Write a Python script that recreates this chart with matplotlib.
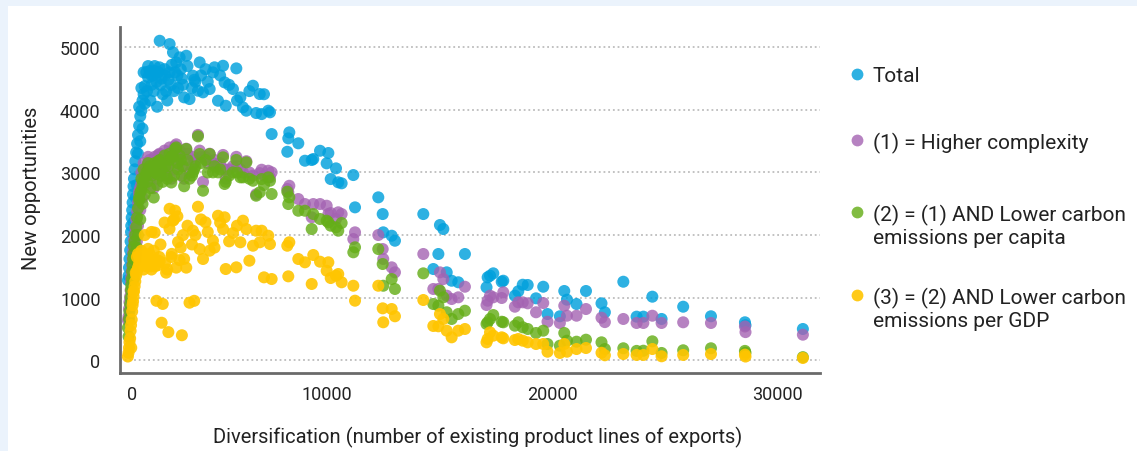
import matplotlib
matplotlib.use("Agg")
import matplotlib.pyplot as plt
from matplotlib.lines import Line2D
from matplotlib.patches import Rectangle

# one entry per country: diversification and number of new opportunities
diversification = [
    1150, 1180, 1200, 1220, 1250, 1270, 1290, 1300, 1320, 1340,
    1360, 1380, 1400, 1420, 1450, 1480, 1520, 1560, 1600, 1650,
    1700, 1750, 1800, 1850, 1900, 1970, 2050, 2120, 2200, 2280,
    2340, 2420, 2500, 2565, 2650, 2780, 2850, 2950, 3005, 3080,
    3155, 3250, 3300, 3380, 3450, 3550, 3650, 3745, 3890, 4040,
    4100, 4265, 4340, 4490, 4600, 4785, 4930, 5155, 5380, 5450,
    5500, 5820, 5970, 6150, 6265, 6415, 6550, 6710, 6850, 7010,
    7095, 7200, 7390, 7465, 7540, 8235, 8280, 8325, 8725, 9020,
    9320, 9390, 9690, 9985, 10060, 10165, 10400, 10500, 10650, 11170,
    11245, 12280, 12475, 12500, 12875, 13020, 14280, 14725, 14950, 15020,
    15170, 15320, 15540, 15835, 16130, 17090, 17140, 17245, 17390, 17765,
    17835, 18350, 18500, 18700, 18920, 19290, 19610, 19800, 20350, 20545,
    20665, 21090, 21510, 22200, 22350, 23170, 23760, 24060, 24460, 24870,
    25830, 27065, 28575, 28600, 31150,
    1600, 1650, 1700, 1750, 1800, 1850, 1900, 2000, 2050, 2150,
    2200, 2300, 2350, 2450, 2550, 2600, 2700, 2800, 2900, 3000,
    3100, 3200, 3350, 3500, 3600, 3800, 4000, 4150, 4400, 4700,
    5000, 5250, 5650, 6000, 1550, 1500, 1400,
]
total = [
    1280, 1350, 1480, 1620, 1760, 1900, 2050, 2150, 2280, 2400,
    2520, 2650, 2780, 2900, 3050, 3180, 3320, 3460, 3600, 3750,
    3900, 3990, 4150, 4250, 4380, 4600, 4520, 4620, 4400, 4550,
    4700, 4450, 4600, 5104, 4500, 4650, 4300, 4480, 5051, 4400,
    4919, 4600, 4759, 4350, 4839, 4500, 4200, 4865, 4173, 4546,
    4480, 4306, 4759, 4280, 4650, 4333, 4599, 4146, 4705, 4439,
    4066, 4333, 4663, 4200, 4040, 3987, 4300, 4386, 3950, 4253,
    3933, 4250, 3987, 3961, 3614, 3331, 3545, 3641, 3466, 3188,
    3199, 3215, 3347, 3146, 3311, 2895, 3066, 2843, 2827, 2959,
    2443, 2603, 2336, 2044, 1990, 1910, 2336, 1458, 1698, 2161,
    2097, 1405, 1271, 1246, 1698, 1166, 1325, 1351, 1389, 1255,
    1271, 1032, 1102, 1207, 1203, 990, 1175, 739, 703, 1107,
    968, 899, 1107, 910, 767, 1255, 697, 697, 1016, 660,
    856, 703, 607, 560, 500,
    3300, 4050, 3500, 4350, 3700, 4600, 4100, 4300, 4700, 4150,
    4550, 4300, 4620, 4050, 4680, 4400, 4250, 4550, 4150, 4600,
    4720, 4300, 4550, 4650, 4400, 4700, 4350, 4450, 4550, 4450,
    4680, 4550, 4400, 4150, 2800, 2600, 2200,
]
higher_complexity = [
    640, 700, 820, 930, 1020, 1120, 1260, 1330, 1420, 1520,
    1620, 1720, 1800, 1920, 2020, 2120, 2250, 2380, 2520, 2660,
    2760, 2820, 2900, 2960, 3020, 3100, 3150, 3200, 3050, 3150,
    3250, 3080, 3280, 3300, 3150, 3350, 3100, 3200, 3400, 2900,
    3300, 3420, 3450, 3150, 3350, 3100, 2900, 3380, 3000, 3250,
    3150, 3600, 3350, 2850, 3250, 3300, 3150, 3100, 3280, 3050,
    2900, 3100, 3250, 3050, 3000, 3180, 3000, 2950, 2650, 2990,
    3044, 2950, 3028, 2922, 3002, 2736, 2683, 2788, 2576, 2496,
    2284, 2496, 2496, 2469, 2336, 2352, 2257, 2364, 2336, 1937,
    2044, 2001, 1777, 1618, 1485, 1405, 1698, 1139, 1139, 1405,
    1298, 1032, 979, 1006, 1175, 883, 952, 1032, 1006, 995,
    1086, 856, 926, 926, 910, 767, 915, 616, 596, 872,
    712, 712, 819, 680, 610, 660, 596, 596, 712, 596,
    607, 596, 540, 450, 409,
    2150, 2700, 2400, 3000, 2600, 3150, 2800, 2950, 3250, 2900,
    3150, 2750, 3100, 2900, 3250, 3050, 2950, 3200, 3000, 3300,
    3350, 3050, 3250, 3300, 3200, 3300, 3100, 3200, 3250, 3150,
    3200, 3150, 3050, 3100, 1900, 1700, 1400,
]
lower_co2_capita = [
    520, 380, 660, 780, 900, 1000, 1120, 1200, 1300, 1420,
    1520, 1620, 1700, 1820, 1900, 2000, 2130, 2280, 2430, 2560,
    2680, 2720, 2800, 2860, 2930, 3000, 3050, 3100, 2950, 3050,
    3150, 2980, 3180, 3200, 3050, 3270, 2950, 3100, 3300, 2840,
    3260, 3380, 3400, 3050, 3270, 2950, 2780, 3375, 2900, 3002,
    3050, 3577, 3295, 2709, 3200, 3295, 3002, 3002, 3242, 2816,
    2850, 3002, 3200, 2922, 2922, 3162, 2900, 2868, 2629, 2683,
    2895, 2800, 2922, 2868, 2656, 2693, 2496, 2603, 2389, 2389,
    2097, 2336, 2257, 2230, 2204, 2150, 2124, 2070, 2193, 1725,
    1805, 1777, 1538, 1191, 1298, 1139, 1389, 899, 872, 1112,
    1006, 767, 660, 739, 792, 580, 607, 660, 723, 616,
    607, 553, 607, 527, 500, 436, 473, 260, 233, 436,
    313, 297, 329, 287, 180, 192, 150, 153, 303, 117,
    160, 192, 150, 120, 50,
    2000, 2600, 2250, 2900, 2500, 3050, 2650, 2850, 3150, 2750,
    3050, 2600, 3000, 2800, 3150, 2950, 2850, 3100, 2900, 3200,
    3250, 2950, 3150, 3200, 3100, 3200, 2950, 3100, 3150, 3000,
    3100, 3050, 2950, 3000, 1800, 1600, 1300,
]
lower_co2_gdp = [
    60, 120, 200, 290, 350, 470, 560, 200, 650, 780,
    880, 940, 1020, 1100, 1180, 1260, 1360, 1430, 1480, 1540,
    1600, 1660, 1560, 1700, 1640, 1500, 1780, 1700, 1450, 1600,
    2040, 950, 1520, 1580, 600, 2200, 1400, 450, 2420, 1650,
    2230, 2390, 1480, 1890, 1600, 400, 1620, 1480, 920, 2070,
    950, 2453, 1777, 1618, 2204, 1751, 1910, 2309, 2097, 2284,
    1458, 2033, 1485, 1885, 2230, 2097, 1591, 1830, 2070, 1885,
    2070, 1325, 1990, 1857, 1298, 1830, 1341, 1885, 1618, 1565,
    1219, 1682, 1575, 1431, 1565, 1314, 1351, 1378, 1246, 1191,
    952, 1191, 830, 607, 819, 703, 963, 548, 543, 739,
    660, 473, 367, 473, 500, 287, 340, 447, 393, 367,
    351, 324, 340, 313, 287, 260, 260, 137, 117, 260,
    137, 180, 196, 120, 80, 100, 85, 85, 180, 64,
    85, 100, 90, 60, 37,
    1700, 1650, 1550, 1750, 1600, 1450, 2000, 1550, 1650, 1500,
    2050, 1750, 1500, 1600, 1650, 1850, 900, 1550, 1450, 2100,
    1700, 2250, 2300, 1800, 2000, 2150, 1850, 2000, 2250, 2050,
    1800, 2200, 1900, 2150, 1650, 1400, 1100,
]

series = [
    ("Total", total, "#00a0dc", 0.82),
    ("(1) = Higher complexity", higher_complexity, "#a463b2", 0.8),
    ("(2) = (1) AND Lower carbon\nemissions per capita", lower_co2_capita, "#65ae18", 0.82),
    ("(3) = (2) AND Lower carbon\nemissions per GDP", lower_co2_gdp, "#ffc500", 0.9),
]

plt.rcParams["font.family"] = ["Roboto", "DejaVu Sans"]
TEXT = "#222222"

W, H = 1137, 452
fig = plt.figure(figsize=(W / 100, H / 100), dpi=100, facecolor="#ebf3fc")
fig.add_artist(Rectangle((8 / W, 0), 1 - 8 / W, 1 - 7 / H, transform=fig.transFigure,
                         facecolor="white", edgecolor="none", zorder=0))

ax = fig.add_axes([120 / W, (H - 374) / H, 700 / W, 346 / H])
ax.set_facecolor("white")

for name, vals, color, alpha in series:
    ax.scatter(diversification, vals, s=75, color=color, alpha=alpha,
               edgecolors="none", zorder=3)

ax.set_xlim(800, 31911)
ax.set_ylim(-203, 5324)
ax.set_yticks([0, 1000, 2000, 3000, 4000, 5000])
ax.set_xticks([10000, 20000, 30000])
ax.grid(axis="y", color="#bdbdbd", linestyle=(0, (1, 1.6)), linewidth=1.3, zorder=1)
ax.grid(axis="x", visible=False)
for side in ("top", "right"):
    ax.spines[side].set_visible(False)
for side in ("left", "bottom"):
    ax.spines[side].set_color("#6a6a6a")
    ax.spines[side].set_linewidth(2)
ax.tick_params(axis="both", length=0, labelsize=13, labelcolor=TEXT)
ax.tick_params(axis="y", pad=14)
ax.tick_params(axis="x", pad=9)

# the zero label sits just right of the y axis
ax.annotate("0", xy=(0, 0), xycoords=ax.get_xaxis_transform(),
            xytext=(21.6, -9), textcoords="offset points",
            ha="center", va="top", fontsize=13, color=TEXT, annotation_clip=False)

fig.text(32 / W, (H - 188) / H, "New opportunities", rotation=90,
         ha="center", va="center", fontsize=14.5, color=TEXT)
fig.text(478 / W, (H - 437) / H,
         "Diversification (number of existing product lines of exports)",
         ha="center", va="center", fontsize=14.5, color=TEXT)

# legend drawn by hand so the dot lines up with the first text line
legend_rows = [75, 141, 213, 296]
for (name, vals, color, alpha), yrow in zip(series, legend_rows):
    yf = (H - yrow) / H
    fig.add_artist(Line2D([857 / W], [yf], marker="o", markersize=8.5,
                          color=color, alpha=alpha, markeredgewidth=0,
                          linestyle="none", transform=fig.transFigure))
    fig.text(873 / W, (H - yrow + 8) / H, name, ha="left", va="top",
             fontsize=15, color=TEXT, linespacing=1.22)

fig.savefig("out.png", dpi=100, facecolor=fig.get_facecolor())
